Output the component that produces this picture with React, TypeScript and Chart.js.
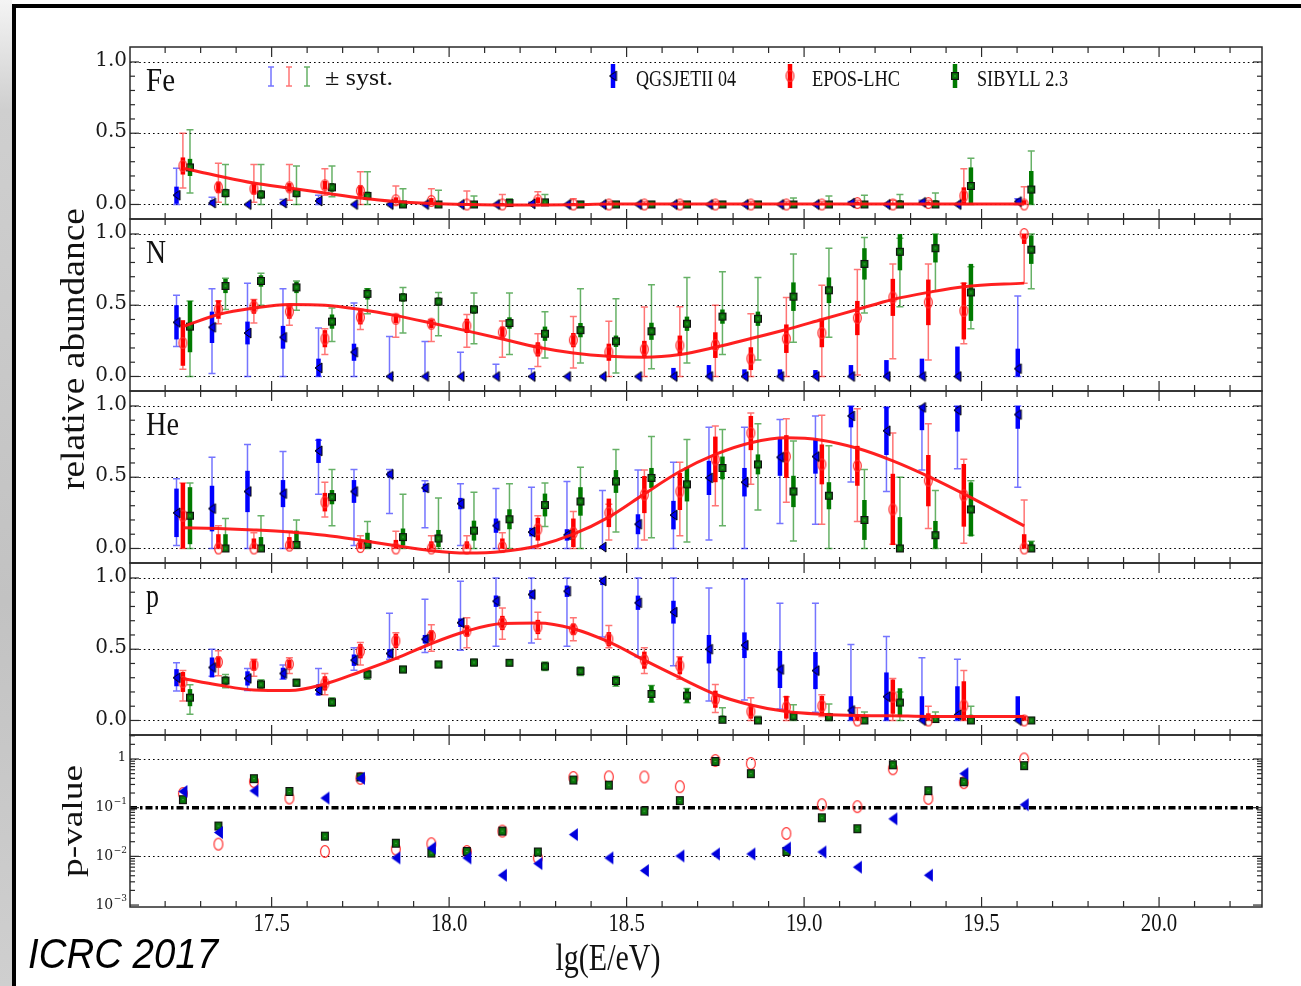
import React, { useEffect, useRef } from "react";
import { Chart, registerables } from "chart.js";

Chart.register(...registerables);

// ---------------- data ----------------
const ENERGY = [17.25, 17.35, 17.45, 17.55, 17.65, 17.75, 17.85, 17.95, 18.05, 18.15, 18.25, 18.35,
  18.45, 18.55, 18.65, 18.75, 18.85, 18.95, 19.05, 19.15, 19.25, 19.35, 19.45, 19.62];

// rows: [fraction, stat. half-width, syst. low, syst. high]
const FE_QGSJET = [[0.065,0.06,0,0.255],[0.01,0.02,0,0.05],[0,0,0,0],[0.01,0.01,0,0.035],[0.025,0.02,0,0.065],[0,0,0,0],[0,0,0,0],[0,0,0,0],[0,0,0,0],[0,0,0,0],[0.005,0.005,0,0.015],[0,0,0,0],[0,0,0,0],[0,0,0,0],[0,0,0,0],[0,0,0,0],[0,0,0,0],[0,0,0,0],[0,0,0,0],[0.01,0.01,0,0.02],[0,0,0,0],[0.015,0.01,0,0.03],[0,0,0,0],[0.02,0.02,0,0.04]];
const FE_EPOS = [[0.27,0.06,0.115,0.5],[0.12,0.04,0.015,0.29],[0.11,0.04,0.015,0.28],[0.12,0.03,0.03,0.28],[0.135,0.03,0.065,0.25],[0.095,0.04,0,0.23],[0.03,0.02,0,0.13],[0.025,0.02,0,0.11],[0,0.01,0,0.095],[0,0.01,0,0.07],[0.03,0.02,0,0.09],[0,0.01,0,0.04],[0,0.005,0,0.02],[0,0.005,0,0.02],[0,0.005,0,0.02],[0,0.005,0,0.02],[0,0.005,0,0.02],[0,0.005,0,0.02],[0,0.005,0,0.02],[0.01,0.01,0,0.03],[0,0.01,0,0.03],[0.01,0.01,0,0.03],[0.06,0.06,0,0.25],[0,0.03,0,0.125]];
const FE_SIBYLL = [[0.26,0.06,0.08,0.525],[0.08,0.03,0,0.28],[0.07,0.03,0,0.28],[0.08,0.03,0,0.27],[0.12,0.03,0.055,0.27],[0.06,0.03,0,0.23],[0,0.02,0,0.11],[0,0.02,0,0.1],[0,0.01,0,0.06],[0.01,0.01,0,0.04],[0.015,0.01,0,0.07],[0,0.005,0,0.02],[0,0.005,0,0.02],[0,0.005,0,0.02],[0,0.005,0,0.02],[0,0.005,0,0.02],[0,0.005,0,0.02],[0,0.02,0,0.045],[0,0.02,0,0.06],[0,0.02,0,0.065],[0,0.03,0,0.07],[0,0.03,0,0.08],[0.13,0.13,0,0.325],[0.105,0.13,0,0.375]];

const N_QGSJET = [[0.38,0.12,0.21,0.57],[0.345,0.11,0.02,0.615],[0.305,0.08,0,0.655],[0.275,0.08,0,0.615],[0.06,0.065,0,0.34],[0.17,0.06,0,0.515],[0,0,0,0.28],[0,0,0,0.245],[0,0,0,0.17],[0,0,0,0.085],[0,0,0,0.055],[0,0,0,0],[0,0,0,0],[0,0,0,0],[0,0.06,0,0],[0,0.08,0,0],[0,0.05,0,0],[0,0.05,0,0],[0,0.045,0,0],[0,0.08,0,0],[0,0.115,0,0],[0,0.125,0,0],[0,0.21,0,0],[0.055,0.14,0,0.565]];
const N_EPOS = [[0.235,0.16,0.05,0.36],[0.47,0.065,0.37,0.53],[0.49,0.05,0.375,0.54],[0.455,0.05,0.36,0.49],[0.265,0.06,0.155,0.335],[0.415,0.05,0.33,0.47],[0.405,0.03,0.275,0.435],[0.37,0.03,0.245,0.4],[0.355,0.05,0.205,0.435],[0.31,0.04,0.135,0.39],[0.19,0.05,0.07,0.3],[0.255,0.05,0.06,0.42],[0.17,0.06,0,0.387],[0.19,0.06,0,0.487],[0.217,0.07,0,0.49],[0.22,0.09,0,0.5],[0.125,0.08,0,0.44],[0.265,0.1,0,0.555],[0.305,0.1,0,0.64],[0.41,0.12,0.01,0.75],[0.555,0.13,0.125,0.79],[0.52,0.16,0.115,0.79],[0.46,0.2,0.23,0.655],[1.0,0.07,0.655,1.0]];
const N_SIBYLL = [[0.35,0.18,0,0.53],[0.635,0.05,0.47,0.69],[0.67,0.04,0.5,0.725],[0.625,0.04,0.465,0.67],[0.385,0.05,0.245,0.48],[0.58,0.04,0.44,0.615],[0.555,0.03,0.305,0.625],[0.525,0.03,0.285,0.59],[0.47,0.03,0.23,0.585],[0.375,0.04,0.155,0.585],[0.3,0.05,0.13,0.455],[0.325,0.05,0.095,0.615],[0.247,0.04,0.025,0.545],[0.317,0.06,0.055,0.643],[0.37,0.05,0.095,0.695],[0.42,0.05,0.155,0.735],[0.405,0.05,0.115,0.695],[0.56,0.1,0.24,0.86],[0.605,0.09,0.275,0.9],[0.79,0.11,0.445,0.975],[0.875,0.13,0.49,0.97],[0.9,0.1,0.6,1.0],[0.59,0.2,0.335,0.77],[0.89,0.1,0.615,1.0]];

const HE_QGSJET = [[0.25,0.17,0.02,0.49],[0.28,0.16,0,0.64],[0.4,0.145,0,0.73],[0.385,0.095,0,0.68],[0.685,0.085,0.38,0.76],[0.4,0.08,0.02,0.555],[0.52,0.02,0.245,0.555],[0.425,0.03,0.145,0.475],[0.315,0.04,0.02,0.455],[0.16,0.05,0,0.42],[0.115,0.03,0,0.43],[0.095,0.04,0,0.47],[0.01,0.01,0,0.406],[0.17,0.07,0,0.55],[0.234,0.1,0,0.605],[0.495,0.12,0.06,0.85],[0.465,0.1,0,0.85],[0.64,0.13,0.176,0.905],[0.645,0.12,0.17,0.93],[0.93,0.08,0.466,1.0],[0.826,0.17,0.4,0.99],[0.99,0.16,0.55,1.0],[0.97,0.15,0.56,1.0],[0.94,0.1,0.43,1.0]];
const HE_EPOS = [[0.23,0.23,0,0.46],[0,0.1,0,0.16],[0,0.07,0,0.11],[0.02,0.06,0,0.12],[0.325,0.065,0.22,0.465],[0.01,0.05,0,0.09],[0,0.06,0,0.12],[0,0.05,0,0.09],[0,0.05,0,0.09],[0.01,0.06,0,0.11],[0.135,0.08,0,0.23],[0.11,0.1,0,0.26],[0.25,0.1,0.06,0.31],[0.378,0.13,0.06,0.55],[0.4,0.13,0.09,0.605],[0.625,0.16,0.3,0.86],[0.81,0.12,0.45,0.95],[0.645,0.15,0.325,0.91],[0.59,0.14,0.17,0.935],[0.58,0.14,0.19,0.98],[0.274,0.25,0.03,0.81],[0.476,0.18,0.14,0.875],[0.373,0.22,0.037,0.626],[0,0.1,0,0.34]];
const HE_SIBYLL = [[0.23,0.2,0,0.46],[0,0.1,0,0.21],[0,0.08,0,0.23],[0.025,0.1,0,0.2],[0.36,0.05,0.16,0.555],[0.03,0.08,0,0.19],[0.08,0.06,0,0.38],[0.07,0.06,0,0.355],[0.125,0.07,0,0.395],[0.205,0.07,0,0.455],[0.305,0.08,0.155,0.46],[0.33,0.1,0,0.57],[0.47,0.08,0.115,0.695],[0.495,0.07,0.075,0.785],[0.45,0.12,0.045,0.765],[0.565,0.08,0.16,0.835],[0.59,0.07,0.27,0.875],[0.4,0.11,0.053,0.755],[0.37,0.095,0,0.72],[0.2,0.14,0,0.555],[0,0.22,0,0.5],[0.093,0.1,0,0.406],[0.274,0.19,0.093,0.476],[0,0.05,0,0.05]];

const P_QGSJET = [[0.3,0.06,0.207,0.405],[0.372,0.07,0.31,0.5],[0.295,0.05,0.21,0.365],[0.33,0.04,0.29,0.39],[0.214,0.04,0.186,0.365],[0.423,0.04,0.353,0.51],[0.47,0.03,0.43,0.753],[0.57,0.03,0.477,0.85],[0.686,0.03,0.493,0.977],[0.837,0.04,0.52,1.0],[0.884,0.03,0.544,1.0],[0.907,0.04,0.52,1.0],[0.98,0.03,0.586,1.0],[0.826,0.05,0.447,1.0],[0.76,0.08,0.384,1.0],[0.5,0.1,0.137,0.93],[0.528,0.09,0.144,0.993],[0.358,0.13,0.08,0.823],[0.35,0.13,0.058,0.823],[0.07,0.1,0,0.533],[0.167,0.17,0,0.59],[0,0.17,0,0.44],[0.04,0.2,0,0.43],[0,0.17,0,0]];
const P_EPOS = [[0.27,0.07,0.137,0.35],[0.41,0.04,0.314,0.49],[0.39,0.04,0.31,0.43],[0.395,0.03,0.33,0.44],[0.26,0.05,0.18,0.33],[0.486,0.05,0.39,0.547],[0.558,0.05,0.43,0.616],[0.593,0.04,0.486,0.672],[0.628,0.04,0.51,0.72],[0.684,0.05,0.57,0.79],[0.656,0.05,0.57,0.76],[0.64,0.04,0.56,0.72],[0.57,0.05,0.51,0.667],[0.423,0.06,0.33,0.51],[0.384,0.06,0.29,0.447],[0.149,0.06,0.056,0.253],[0.063,0.05,0,0.16],[0.093,0.08,0,0.167],[0.102,0.07,0.028,0.18],[0,0.04,0,0.09],[0.167,0.12,0,0.295],[0,0.05,0,0.1],[0.105,0.17,0,0.35],[0,0.03,0,0.03]];
const P_SIBYLL = [[0.16,0.06,0.044,0.25],[0.28,0.03,0.23,0.323],[0.253,0.03,0.22,0.285],[0.265,0.025,0.24,0.29],[0.128,0.03,0.1,0.16],[0.323,0.03,0.29,0.35],[0.358,0.02,0.335,0.38],[0.393,0.02,0.37,0.415],[0.407,0.025,0.38,0.43],[0.405,0.02,0.385,0.425],[0.38,0.03,0.35,0.41],[0.346,0.03,0.315,0.375],[0.277,0.035,0.24,0.31],[0.186,0.06,0.13,0.246],[0.174,0.05,0.125,0.225],[0.005,0.03,0,0.09],[0,0.02,0,0.03],[0.028,0.03,0,0.11],[0.023,0.03,0,0.115],[0,0.03,0,0.06],[0.126,0.1,0,0.2],[0.01,0.02,0,0.06],[0,0.04,0,0.1],[0,0.02,0,0.02]];

// fitted fractions (red curves)
const FE_FIT = [0.255,0.2,0.15,0.115,0.08,0.045,0.02,0.007,0,-0.004,-0.004,-0.002,0.003,0.003,0.003,0.003,0.003,0.003,0.003,0.003,0.003,0.003,0.003,0.003];
const N_FIT = [0.35,0.435,0.48,0.505,0.5,0.47,0.427,0.375,0.32,0.263,0.205,0.165,0.142,0.135,0.154,0.205,0.266,0.33,0.4,0.47,0.54,0.59,0.63,0.655];
const HE_FIT = [0.146,0.14,0.13,0.116,0.093,0.058,0.019,-0.016,-0.032,-0.021,0.019,0.1,0.22,0.383,0.54,0.66,0.742,0.777,0.76,0.703,0.615,0.506,0.383,0.158];
const P_FIT = [0.295,0.249,0.214,0.21,0.256,0.342,0.435,0.54,0.628,0.68,0.684,0.644,0.551,0.423,0.3,0.184,0.109,0.063,0.044,0.035,0.033,0.028,0.028,0.028];

// p-values
const PV_QGSJET = [0.215,0.031,0.222,null,0.158,0.4,0.0093,0.0148,0.0093,0.0041,0.0071,0.028,0.0093,0.0051,0.0102,0.0112,0.0112,0.0148,0.0123,0.006,0.059,0.0041,0.5,0.115];
const PV_EPOS = [0.195,0.0178,0.343,0.158,0.0126,0.4,0.0141,0.0182,0.0126,0.033,0.0093,0.417,0.43,0.427,0.27,0.93,0.81,0.0295,0.115,0.105,0.63,0.155,0.327,1.0];
const PV_SIBYLL = [0.146,0.042,0.394,0.215,0.026,0.427,0.0186,0.0117,0.0126,0.033,0.0123,0.37,0.29,0.085,0.14,0.89,0.5,0.0126,0.062,0.037,0.76,0.224,0.34,0.73];
const P_THRESHOLD = 0.1;

const X_TICKS = [17.5, 18.0, 18.5, 19.0, 19.5, 20.0];
const FRAC_TICKS = [0, 0.5, 1.0];
const PV_TICKS = [1, 0.1, 0.01, 0.001];
const PV_GRID = [1, 0.01];

// ---------------- style ----------------
const X_MIN = 17.101, X_MAX = 20.29;
const FRAC_MIN = -0.102, FRAC_MAX = 1.105;
const PV_MIN = 0.000912, PV_MAX = 3.11;
const SERIF = "'Liberation Serif', 'Times New Roman', serif";
const TICKFONT = "'DejaVu Serif', serif";
const FIT_COLOR = "rgba(255,20,20,0.95)";
const MODELS = [
  { name: "QGSJETII 04", dx: -0.018, solid: "#0000ff", light: "rgba(25,25,255,0.6)" },
  { name: "EPOS-LHC", dx: 0, solid: "#ff0000", light: "rgba(255,25,25,0.6)" },
  { name: "SIBYLL 2.3", dx: 0.02, solid: "#007a00", light: "rgba(0,125,0,0.6)" },
];
const PANELS = [
  { axis: "yFe", label: "Fe", labelW: 29, rows: [FE_QGSJET, FE_EPOS, FE_SIBYLL], fit: FE_FIT },
  { axis: "yN", label: "N", labelW: 20, rows: [N_QGSJET, N_EPOS, N_SIBYLL], fit: N_FIT },
  { axis: "yHe", label: "He", labelW: 33, rows: [HE_QGSJET, HE_EPOS, HE_SIBYLL], fit: HE_FIT },
  { axis: "yP", label: "p", labelW: 13, rows: [P_QGSJET, P_EPOS, P_SIBYLL], fit: P_FIT },
];
const PV_SERIES = [PV_QGSJET, PV_EPOS, PV_SIBYLL];

// ---------------- helpers ----------------
function mkCanvas(w: number, h: number, draw: (g: CanvasRenderingContext2D, p: number) => void) {
  const p = 2;
  const c = document.createElement("canvas");
  c.width = w + 2 * p;
  c.height = h + 2 * p;
  const g = c.getContext("2d")!;
  draw(g, p);
  return c;
}
function triLeft(w: number, h: number, fill: string, stroke: string | null) {
  return mkCanvas(w, h, (g, p) => {
    g.beginPath();
    g.moveTo(p, p + h / 2);
    g.lineTo(p + w, p);
    g.lineTo(p + w, p + h);
    g.closePath();
    g.fillStyle = fill;
    g.fill();
    if (stroke) { g.lineWidth = 1; g.strokeStyle = stroke; g.stroke(); }
  });
}
function oval(w: number, h: number, stroke: string, lw: number) {
  return mkCanvas(w, h, (g, p) => {
    g.beginPath();
    g.ellipse(p + w / 2, p + h / 2, w / 2 - lw / 2, h / 2 - lw / 2, 0, 0, Math.PI * 2);
    g.strokeStyle = stroke;
    g.lineWidth = lw;
    g.stroke();
  });
}
function box(w: number, h: number, fill: string, stroke: string) {
  return mkCanvas(w, h, (g, p) => {
    g.fillStyle = fill;
    g.fillRect(p, p, w, h);
    g.strokeStyle = stroke;
    g.lineWidth = 1.2;
    g.strokeRect(p + 0.6, p + 0.6, w - 1.2, h - 1.2);
    g.fillStyle = "#7fbf7f";
    g.fillRect(p + w / 2 - 0.5, p + h / 2 - 0.5, 1, 1);
  });
}

function fitText(ctx: CanvasRenderingContext2D, text: string, x: number, y: number, font: string,
  width: number, align: CanvasTextAlign, baseline: CanvasTextBaseline, rot = 0, color = "#111") {
  ctx.save();
  ctx.font = font;
  const w = ctx.measureText(text).width;
  ctx.translate(x, y);
  if (rot) ctx.rotate(rot);
  ctx.scale(width / w, 1);
  ctx.textAlign = align;
  ctx.textBaseline = baseline;
  ctx.fillStyle = color;
  ctx.fillText(text, 0, 0);
  ctx.restore();
}
function scaledText(ctx: CanvasRenderingContext2D, text: string, x: number, y: number, font: string,
  sx: number, align: CanvasTextAlign, baseline: CanvasTextBaseline, color = "#111") {
  ctx.save();
  ctx.font = font;
  ctx.translate(x, y);
  ctx.scale(sx, 1);
  ctx.textAlign = align;
  ctx.textBaseline = baseline;
  ctx.fillStyle = color;
  ctx.fillText(text, 0, 0);
  ctx.restore();
}
function seg(ctx: CanvasRenderingContext2D, x1: number, y1: number, x2: number, y2: number) {
  ctx.beginPath();
  ctx.moveTo(x1, y1);
  ctx.lineTo(x2, y2);
  ctx.stroke();
}

function makePlugin(mk: any) {
  const FRAC_AXES = PANELS.map((p) => p.axis);
  const ALL_AXES = [...FRAC_AXES, "yPv"];
  return {
    id: "augerPanels",
    beforeDatasetsDraw(chart: any) {
      const { ctx, chartArea: ca, scales } = chart;
      ctx.save();
      ctx.strokeStyle = "#000";
      ctx.lineWidth = 1.2;
      ctx.setLineDash([1.6, 3]);
      FRAC_AXES.forEach((id) => FRAC_TICKS.forEach((v) => {
        const y = Math.round(scales[id].getPixelForValue(v)) + 0.5;
        seg(ctx, ca.left, y, ca.right, y);
      }));
      PV_GRID.forEach((v) => {
        const y = Math.round(scales.yPv.getPixelForValue(v)) + 0.5;
        seg(ctx, ca.left, y, ca.right, y);
      });
      ctx.setLineDash([7, 3, 2.5, 3]);
      ctx.lineWidth = 3.6;
      const yt = scales.yPv.getPixelForValue(P_THRESHOLD);
      seg(ctx, ca.left, yt, ca.right, yt);
      ctx.setLineDash([]);
      // error bars
      chart.data.datasets.forEach((ds: any, i: number) => {
        if (!ds.errs) return;
        const meta = chart.getDatasetMeta(i);
        const ys = scales[ds.yAxisID];
        const m = MODELS[ds.model];
        ds.errs.forEach((r: number[], j: number) => {
          const pt = meta.data[j];
          if (!pt) return;
          const x = pt.x;
          const [v, st, lo, hi] = r;
          if (hi - lo > 0.004) {
            const y1 = ys.getPixelForValue(lo), y2 = ys.getPixelForValue(hi);
            ctx.strokeStyle = m.light;
            ctx.lineWidth = 1.5;
            ctx.beginPath();
            ctx.moveTo(x, y1); ctx.lineTo(x, y2);
            ctx.moveTo(x - 3.5, y1); ctx.lineTo(x + 3.5, y1);
            ctx.moveTo(x - 3.5, y2); ctx.lineTo(x + 3.5, y2);
            ctx.stroke();
          }
          const a = Math.max(0, v - st), b = Math.min(1, v + st);
          if (b - a > 0.004) {
            ctx.strokeStyle = m.solid;
            ctx.lineWidth = 4.5;
            seg(ctx, x, ys.getPixelForValue(a), x, ys.getPixelForValue(b));
          }
        });
      });
      ctx.restore();
    },
    afterDatasetsDraw(chart: any) {
      const { ctx, chartArea: ca, scales } = chart;
      ctx.save();
      ctx.strokeStyle = "#2a2a2a";
      ctx.lineWidth = 1.5;
      ALL_AXES.forEach((id) => {
        const s = scales[id];
        ctx.strokeRect(ca.left, s.top, ca.right - ca.left, s.bottom - s.top);
      });
      ctx.lineWidth = 1.2;
      const xs = scales.x;
      for (let k = 172; k <= 202; k++) {
        const px = xs.getPixelForValue(k / 10);
        if (px < ca.left || px > ca.right) continue;
        const L = k % 5 === 0 ? 10 : 6;
        ALL_AXES.forEach((id) => {
          const s = scales[id];
          seg(ctx, px, s.top, px, s.top + L);
          seg(ctx, px, s.bottom, px, s.bottom - L);
        });
      }
      FRAC_AXES.forEach((id) => {
        const s = scales[id];
        for (let k = 0; k <= 10; k++) {
          const py = s.getPixelForValue(k / 10);
          const L = k % 5 === 0 ? 9 : 5;
          seg(ctx, ca.left, py, ca.left + L, py);
          seg(ctx, ca.right, py, ca.right - L, py);
        }
      });
      const pv = scales.yPv;
      for (let d = -3; d <= 0; d++) {
        for (let m = 1; m <= 9; m++) {
          const v = m * Math.pow(10, d);
          if (v < PV_MIN || v > PV_MAX) continue;
          const py = pv.getPixelForValue(v);
          const L = m === 1 ? 9 : 5;
          seg(ctx, ca.left, py, ca.left + L, py);
          seg(ctx, ca.right, py, ca.right - L, py);
        }
      }
      ctx.restore();
    },
    afterDraw(chart: any) {
      const { ctx, chartArea: ca, scales } = chart;
      ctx.save();
      // y tick labels (fractions)
      ctx.font = `20px ${TICKFONT}`;
      ctx.fillStyle = "#1a1a1a";
      ctx.textAlign = "right";
      ctx.textBaseline = "middle";
      PANELS.forEach((p) => {
        const s = scales[p.axis];
        FRAC_TICKS.forEach((v) => ctx.fillText(v.toFixed(1), ca.left - 3, s.getPixelForValue(v) - 1));
      });
      // p-value tick labels
      const pv = scales.yPv;
      PV_TICKS.forEach((v) => {
        const y = pv.getPixelForValue(v);
        if (v === 1) {
          ctx.font = `13px ${TICKFONT}`;
          ctx.fillText("1", ca.left - 4, y - 1);
        } else {
          const ex = "\u2212" + Math.round(-Math.log10(v));
          ctx.font = `9px ${TICKFONT}`;
          const ew = ctx.measureText(ex).width;
          ctx.fillText(ex, ca.left - 3, y - 6);
          ctx.font = `14px ${TICKFONT}`;
          ctx.fillText("10", ca.left - 3 - ew - 0.5, y);
        }
      });
      // x tick labels
      X_TICKS.forEach((v) => {
        scaledText(ctx, v.toFixed(1), scales.x.getPixelForValue(v), ca.bottom + 24, `26px ${SERIF}`, 0.8, "center", "alphabetic");
      });
      // panel labels
      PANELS.forEach((p) => {
        fitText(ctx, p.label, ca.left + 16, scales[p.axis].top + 44, `34px ${SERIF}`, p.labelW, "left", "alphabetic");
      });
      // axis titles
      fitText(ctx, "lg(E/eV)", 608, 970, `37px ${SERIF}`, 105, "center", "alphabetic");
      const fracMid = (scales.yFe.top + scales.yP.bottom) / 2 - 42;
      fitText(ctx, "relative abundance", 84, fracMid, `33px ${SERIF}`, 282, "center", "alphabetic", -Math.PI / 2);
      fitText(ctx, "p-value", 82, (pv.top + pv.bottom) / 2, `30px ${SERIF}`, 112, "center", "alphabetic", -Math.PI / 2);
      fitText(ctx, "ICRC 2017", 28, 968, `italic 42px 'Liberation Sans', Arial, sans-serif`, 190, "left", "alphabetic", 0, "#000");

      // legend
      const ly = scales.yFe.top + 30;
      const L0 = ca.left;
      [141, 159, 177].forEach((dx, i) => {
        const x = L0 + dx;
        ctx.strokeStyle = MODELS[i].light;
        ctx.lineWidth = 1.5;
        ctx.beginPath();
        ctx.moveTo(x, ly - 10); ctx.lineTo(x, ly + 9);
        ctx.moveTo(x - 3, ly - 10); ctx.lineTo(x + 3, ly - 10);
        ctx.moveTo(x - 3, ly + 9); ctx.lineTo(x + 3, ly + 9);
        ctx.stroke();
      });
      fitText(ctx, "\u00b1 syst.", L0 + 195, ly + 8, `24px ${SERIF}`, 68, "left", "alphabetic");
      const entries = [
        { dx: 483, tx: 506, w: 100, img: mk.frac[0] },
        { dx: 660, tx: 682, w: 88, img: mk.frac[1] },
        { dx: 825, tx: 847, w: 91, img: mk.frac[2] },
      ];
      entries.forEach((e, i) => {
        const x = L0 + e.dx;
        ctx.strokeStyle = MODELS[i].solid;
        ctx.lineWidth = 4.5;
        seg(ctx, x, ly - 13, x, ly + 11);
        ctx.drawImage(e.img, x - e.img.width / 2, ly - 1 - e.img.height / 2);
        fitText(ctx, MODELS[i].name, L0 + e.tx, ly + 9, `23px ${SERIF}`, e.w, "left", "alphabetic");
      });
      ctx.restore();
    },
  };
}

export default function App() {
  const ref = useRef<HTMLCanvasElement>(null);
  useEffect(() => {
    const mk = {
      frac: [triLeft(7, 10, "#0000ee", "#000"), oval(9, 12, "#ff3030", 1.3), box(8, 8, "#0a7a0a", "#111")],
      pv: [triLeft(9, 13, "#0000dd", null), oval(10, 13, "#ff3030", 1.2), box(8, 9, "#0a7a0a", "#111")],
    };
    const datasets: any[] = [];
    PANELS.forEach((panel) => {
      datasets.push({
        label: panel.label + " fit",
        data: ENERGY.map((e, i) => ({ x: e, y: panel.fit[i] })),
        yAxisID: panel.axis,
        showLine: true,
        borderColor: FIT_COLOR,
        borderWidth: 3,
        pointRadius: 0,
        cubicInterpolationMode: "monotone",
        order: 0,
      });
      panel.rows.forEach((rows, m) => {
        datasets.push({
          label: panel.label + " " + MODELS[m].name,
          data: ENERGY.map((e, i) => ({ x: e + MODELS[m].dx, y: rows[i][0] })),
          yAxisID: panel.axis,
          errs: rows,
          model: m,
          showLine: false,
          pointStyle: mk.frac[m],
          pointRadius: 5,
          order: 1 + m,
        });
      });
    });
    PV_SERIES.forEach((vals, m) => {
      datasets.push({
        label: "p-value " + MODELS[m].name,
        data: ENERGY.map((e, i) => ({ x: e, y: vals[i] })),
        yAxisID: "yPv",
        showLine: false,
        pointStyle: mk.pv[m],
        pointRadius: 6,
        order: [4, 6, 5][m],
      });
    });
    const hidden = { grid: { display: false }, border: { display: false }, ticks: { display: false } };
    const fracAxis = () => ({
      type: "linear", min: FRAC_MIN, max: FRAC_MAX, position: "left", stack: "panels", stackWeight: 1,
      ...hidden, afterFit: (s: any) => { s.width = 40; },
    });
    const chart = new Chart(ref.current!, {
      type: "scatter",
      data: { datasets },
      options: {
        animation: false,
        responsive: true,
        maintainAspectRatio: false,
        devicePixelRatio: 1,
        events: [],
        layout: { padding: { left: 90, right: 39, top: 47, bottom: 69 } },
        plugins: { legend: { display: false }, tooltip: { enabled: false } },
        scales: {
          x: { type: "linear", min: X_MIN, max: X_MAX, ...hidden, afterFit: (s: any) => { s.height = 10; } },
          yPv: {
            type: "logarithmic", min: PV_MIN, max: PV_MAX, position: "left", stack: "panels", stackWeight: 1,
            ...hidden, afterFit: (s: any) => { s.width = 40; },
          },
          yP: fracAxis(),
          yHe: fracAxis(),
          yN: fracAxis(),
          yFe: fracAxis(),
        },
      } as any,
      plugins: [makePlugin(mk)],
    } as any);
    return () => chart.destroy();
  }, []);

  return (
    <div style={{ position: "absolute", left: 0, top: 0, width: 1301, height: 986, background: "#fff", overflow: "hidden" }}>
      <div style={{ position: "absolute", left: 0, top: 0, width: 12, height: 986,
        background: "linear-gradient(to bottom, #f4f4f4 0px, #cfcfcf 110px, #c2c2c2 600px, #cfcfcf 986px)" }} />
      <div style={{ position: "absolute", left: 12, top: 4, width: 4, height: 982, background: "#000" }} />
      <div style={{ position: "absolute", left: 12, top: 4, width: 1289, height: 4, background: "#000" }} />
      <div style={{ position: "absolute", left: 0, top: 0, width: 1301, height: 986 }}>
        <canvas ref={ref} />
      </div>
    </div>
  );
}
